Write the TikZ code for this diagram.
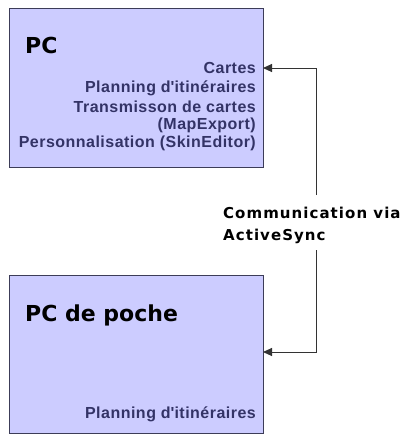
\documentclass[tikz,border=0pt]{standalone}
\usepackage{fontspec}
\setmainfont{Liberation Sans}
\newfontfamily\commfont[LetterSpace=7]{DejaVu Sans}
\newfontfamily\titlefont{DejaVu Sans}
\newfontfamily\featfont[LetterSpace=3]{Liberation Sans}
\usetikzlibrary{arrows.meta}
\definecolor{boxfill}{HTML}{CCCCFF}
\definecolor{boxline}{HTML}{3C3C58}
\definecolor{txtblue}{HTML}{333366}
\definecolor{linecol}{HTML}{333333}
\tikzset{
  devbox/.style={draw=boxline, line width=1pt, fill=boxfill, minimum width=254pt, anchor=north west, inner sep=0pt},
  devtitle/.style={anchor=base west, inner sep=0pt, font=\fontsize{22}{22}\titlefont\bfseries, text=black},
  feat/.style={anchor=base east, inner sep=0pt, font=\fontsize{16}{16}\featfont\bfseries, text=txtblue},
  conn/.style={draw=linecol, line width=1pt, -{Triangle[length=9pt,width=8pt]}},
  comm/.style={anchor=base west, inner sep=0pt, align=left, font=\fontsize{15}{22}\commfont\bfseries, text=black}
}
\begin{document}
\begin{tikzpicture}[x=1pt,y=-1pt]
\useasboundingbox (0,0) rectangle (406,442);
\node[devbox, minimum height=159pt] (pc) at (9,8) {};
\node[devbox, minimum height=158pt] (poche) at (9,275) {};
\node[devtitle] (pct) at (25,53) {PC};
\node[devtitle] (pocht) at (25,321) {PC de poche};
\node[feat] (f1) at (256,73) {Cartes};
\node[feat] (f2) at (256,92) {Planning d\textquotesingle itinéraires};
\node[feat] (f3) at (256,112) {Transmisson de cartes};
\node[feat] (f4) at (256,129) {(MapExport)};
\node[feat] (f5) at (256,147) {Personnalisation (SkinEditor)};
\node[feat] (g1) at (256,418) {Planning d\textquotesingle itinéraires};
\node[comm] (cm1) at (223,218) {Communication via};
\node[comm] (cm2) at (223,240) {ActiveSync};
\coordinate (a1) at (316,195);
\coordinate (a2) at (316,250);
\coordinate (h1) at (263,68);
\coordinate (h2) at (263,352);
\draw[conn] (a1) |- (h1);
\draw[conn] (a2) |- (h2);
\end{tikzpicture}
\end{document}
